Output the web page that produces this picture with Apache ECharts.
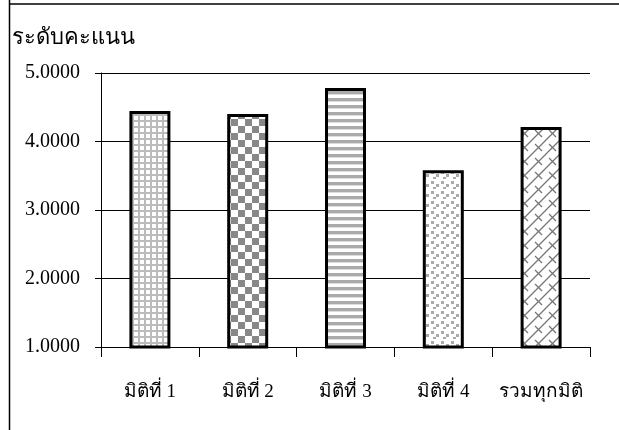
<!DOCTYPE html>
<html><head><meta charset="utf-8">
<script src="https://cdn.jsdelivr.net/npm/echarts@6/dist/echarts.min.js"></script>
<style>html,body{margin:0;padding:0;background:#fff}#c{width:619px;height:430px}</style>
</head><body><div id="c"></div>
<script>
const categories = ['มิติที่ 1', 'มิติที่ 2', 'มิติที่ 3', 'มิติที่ 4', 'รวมทุกมิติ'];
const values = [4.445, 4.40, 4.78, 3.58, 4.21];
const yTicks = [1, 2, 3, 4, 5];
const yName = 'ระดับคะแนน';

function mk(w, h, draw) {
  const c = document.createElement('canvas');
  c.width = w; c.height = h;
  const g = c.getContext('2d');
  g.fillStyle = '#fff'; g.fillRect(0, 0, w, h);
  draw(g);
  return c;
}
const pats = [
  mk(6, 6, g => { g.fillStyle = '#bbb'; g.fillRect(0, 0, 6, 2); g.fillRect(0, 0, 2, 6); }),
  mk(14, 14, g => { g.fillStyle = '#888'; g.fillRect(0, 0, 7, 7); g.fillRect(7, 7, 7, 7); }),
  mk(4, 7, g => { g.fillStyle = '#aaa'; g.fillRect(0, 0, 4, 3); g.fillStyle = '#ddd'; g.fillRect(0, 3, 4, 1); }),
  mk(10, 10, g => { g.fillStyle = '#aaa'; g.fillRect(1, 1, 3, 3); g.fillRect(6, 4, 3, 3); g.fillRect(3, 7, 3, 2); }),
  mk(14, 14, g => { g.strokeStyle = '#777'; g.lineWidth = 1.3;
    g.beginPath(); g.moveTo(0, 14); g.lineTo(14, 0); g.moveTo(-7, 7); g.lineTo(7, -7); g.moveTo(7, 21); g.lineTo(21, 7);
    g.moveTo(3, 4); g.lineTo(10, 11); g.stroke(); })
];

const font = "'Liberation Serif','Times New Roman',serif";
const chart = echarts.init(document.getElementById('c'));
chart.setOption({
  animation: false,
  backgroundColor: '#fff',
  grid: { left: 101, right: 29, top: 73, bottom: 83 },
  graphic: [
    { type: 'line', shape: { x1: 9.5, y1: 0, x2: 9.5, y2: 430 }, style: { stroke: '#000', lineWidth: 1.5 } },
    { type: 'line', shape: { x1: 9, y1: 4, x2: 619, y2: 4 }, style: { stroke: '#000', lineWidth: 1.5 } },
    { type: 'text', left: 12, top: 27, style: { text: yName, font: '22px ' + font, fill: '#000' } }
  ],
  xAxis: {
    type: 'category', data: categories,
    axisLine: { lineStyle: { color: '#000', width: 1 } },
    axisTick: { show: true, length: 10, lineStyle: { color: '#000' } },
    axisLabel: { color: '#000', fontFamily: font, fontSize: 19, margin: 36, interval: 0 }
  },
  yAxis: {
    type: 'value', min: yTicks[0], max: yTicks[yTicks.length - 1], interval: 1,
    axisLine: { show: true, lineStyle: { color: '#000', width: 1 } },
    axisTick: { show: true, length: 6, lineStyle: { color: '#000' } },
    splitLine: { lineStyle: { color: '#000', width: 1 } },
    axisLabel: { color: '#000', fontFamily: font, fontSize: 20, margin: 21, formatter: v => v.toFixed(4) }
  },
  series: [{
    type: 'bar', barWidth: 41,
    data: values.map((v, i) => ({ value: v, itemStyle: { color: { image: pats[i], repeat: 'repeat' } } })),
    itemStyle: { borderColor: '#000', borderWidth: 3 }
  }]
});
</script></body></html>
